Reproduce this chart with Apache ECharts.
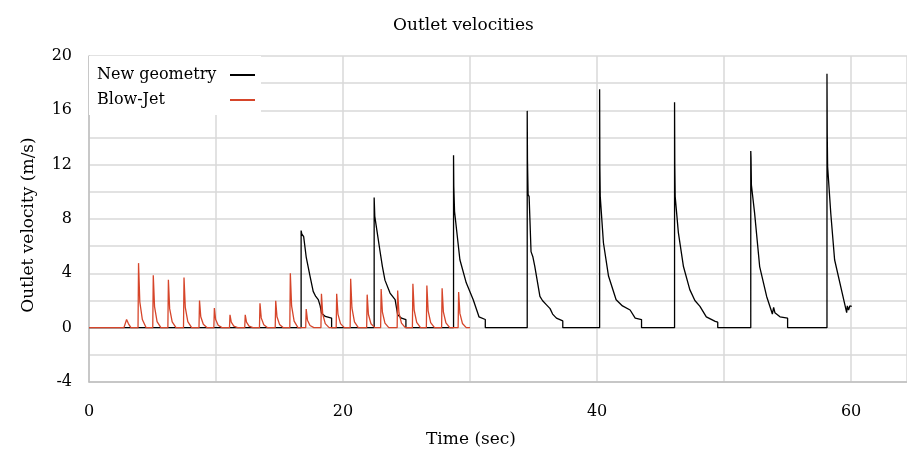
<!DOCTYPE html>
<html>
<head>
<meta charset="utf-8">
<script src="https://cdn.jsdelivr.net/npm/echarts@6/dist/echarts.min.js"></script>
<style>html,body{margin:0;padding:0;background:#fff;}#chart{width:907px;height:453px;}</style>
</head>
<body>
<div id="chart"></div>
<script>
const chartTitle = 'Outlet velocities';
const xAxisTitle = 'Time (sec)';
const yAxisTitle = 'Outlet velocity (m/s)';
const seriesNames = ['New geometry', 'Blow-Jet'];
const xTicks = [0, 20, 40, 60];
const yTicks = [-4, 0, 4, 8, 12, 16, 20];

const newGeomTime = [0,16.7,16.7,16.75,16.9,17.1,17.4,17.65,17.85,18.05,18.2,18.3,18.6,19.1,19.1,
  22.45,22.45,22.5,22.65,22.9,23.1,23.3,23.7,24.1,24.3,24.6,24.95,24.95,
  28.7,28.7,28.72,28.78,29.2,29.7,30.25,30.65,30.7,31.2,31.2,
  34.5,34.5,34.52,34.57,34.65,34.8,34.95,35.1,35.5,35.7,36.0,36.3,36.5,36.8,37.3,37.3,
  40.2,40.2,40.22,40.25,40.5,40.9,41.5,42.0,42.6,43.0,43.5,43.5,
  46.1,46.1,46.12,46.15,46.4,46.8,47.3,47.7,48.1,48.6,49.3,49.5,49.5,
  52.1,52.1,52.12,52.15,52.4,52.8,53.35,53.7,53.8,53.9,54.0,54.4,55.0,55.0,
  58.1,58.1,58.12,58.15,58.4,58.7,59.3,59.65,59.7,59.8,59.9,60.05];
const newGeomVel = [0,0,7.15,6.9,6.7,5.2,3.8,2.67,2.3,2.06,1.6,1.08,0.83,0.71,0,
  0,9.58,8.2,8.07,5.7,4.5,3.5,2.55,2.06,0.95,0.7,0.6,0,
  0,12.7,10.4,8.55,5.0,3.3,2.06,0.95,0.8,0.6,0,
  0,15.96,12.35,9.8,9.65,5.6,5.2,4.5,2.3,2.0,1.7,1.4,1.0,0.7,0.5,0,
  0,17.55,11.86,9.65,6.25,3.8,2.06,1.6,1.3,0.7,0.6,0,
  0,16.6,11.9,9.65,7.0,4.5,2.8,2.0,1.57,0.8,0.46,0.4,0,
  0,13.0,12.5,10.5,8.45,4.5,2.3,1.3,1.0,1.5,1.1,0.8,0.7,0,
  0,18.7,14.3,11.86,8.4,5.0,2.55,1.1,1.6,1.3,1.6,1.57];

const blowJetTime = [0,2.75,2.96,3.1,3.3,
  3.86,3.9,4.0,4.2,4.5,
  5.02,5.06,5.16,5.36,5.66,
  6.21,6.25,6.35,6.55,6.85,
  7.44,7.48,7.58,7.78,8.08,
  8.66,8.7,8.8,9.0,9.3,
  9.83,9.87,9.97,10.17,10.47,
  11.06,11.1,11.2,11.4,11.7,
  12.26,12.3,12.4,12.6,12.9,
  13.42,13.46,13.56,13.76,14.06,
  14.66,14.7,14.8,15.0,15.3,
  15.81,15.85,15.95,16.15,16.45,
  17.06,17.1,17.2,17.4,17.7,
  18.26,18.3,18.4,18.6,18.9,
  19.46,19.5,19.6,19.8,20.1,
  20.56,20.6,20.7,20.9,21.2,
  21.86,21.9,22.0,22.2,22.5,
  22.96,23.0,23.1,23.3,23.6,
  24.26,24.3,24.4,24.6,24.9,
  25.46,25.5,25.6,25.8,26.1,
  26.56,26.6,26.7,26.9,27.2,
  27.76,27.8,27.9,28.1,28.4,
  29.06,29.1,29.2,29.4,29.7,30.0];
const blowJetVel = [0,0,0.6,0.3,0,
  0,4.75,1.9,0.6,0,
  0,3.85,1.55,0.45,0,
  0,3.53,1.4,0.42,0,
  0,3.7,1.5,0.45,0,
  0,2.0,0.8,0.25,0,
  0,1.45,0.6,0.18,0,
  0,0.95,0.4,0.12,0,
  0,0.95,0.4,0.12,0,
  0,1.8,0.72,0.22,0,
  0,1.98,0.8,0.24,0,
  0,4.0,1.6,0.48,0,
  0,1.37,0.55,0.16,0,
  0,2.5,1.0,0.3,0,
  0,2.5,1.0,0.3,0,
  0,3.6,1.45,0.43,0,
  0,2.43,0.97,0.29,0,
  0,2.84,1.14,0.34,0,
  0,2.74,1.1,0.33,0,
  0,3.24,1.3,0.39,0,
  0,3.1,1.24,0.37,0,
  0,2.9,1.16,0.35,0,
  0,2.62,1.05,0.31,0,0];

const zip = (a, b) => a.map((v, i) => [v, b[i]]);
const FONT = 'DejaVu Serif';
const chart = echarts.init(document.getElementById('chart'));
chart.setOption({
  animation: false,
  backgroundColor: '#fff',
  title: {
    text: chartTitle, left: 388, top: 12,
    textStyle: { fontFamily: FONT, fontSize: 17, fontWeight: 'normal', color: '#000' }
  },
  legend: {
    data: seriesNames, orient: 'vertical', left: 89, top: 56, align: 'right',
    backgroundColor: '#fff', padding: [11, 6, 7, 8], itemGap: 9,
    itemWidth: 25, itemHeight: 2, icon: 'rect',
    formatter: name => '{t|' + name + '}',
    textStyle: {
      fontFamily: FONT, fontSize: 16, color: '#000',
      rich: { t: { fontFamily: FONT, fontSize: 16, color: '#000', width: 128, align: 'left' } }
    }
  },
  grid: { left: 89, right: 0, top: 56, bottom: 71, outerBoundsMode: 'none' },
  xAxis: {
    type: 'value', min: 0, max: 64.4, interval: 20,
    name: xAxisTitle, nameLocation: 'middle', nameGap: 49,
    nameTextStyle: { fontFamily: FONT, fontSize: 17, color: '#000', padding: [0, 54, 0, 0] },
    axisLine: { onZero: false, lineStyle: { color: '#bfbfbf', width: 1.5 } },
    axisTick: { show: false },
    axisLabel: {
      margin: 22, showMaxLabel: false, fontFamily: FONT, fontSize: 16, color: '#000',
      formatter: v => (xTicks.indexOf(v) >= 0 ? String(v) : '')
    },
    splitLine: { show: true, lineStyle: { color: '#d9d9d9', width: 1.5 } },
    minorTick: { show: false, splitNumber: 2 },
    minorSplitLine: { show: true, lineStyle: { color: '#d9d9d9', width: 1.5 } }
  },
  yAxis: {
    type: 'value', min: -4, max: 20, interval: 4,
    name: yAxisTitle, nameLocation: 'middle', nameGap: 52, nameRotate: 90,
    nameTextStyle: { fontFamily: FONT, fontSize: 17, color: '#000', padding: [0, 12, 0, 0] },
    axisLine: { show: true, lineStyle: { color: '#bfbfbf', width: 1.5 } },
    axisTick: { show: false },
    axisLabel: {
      margin: 17, fontFamily: FONT, fontSize: 16, color: '#000',
      formatter: v => (yTicks.indexOf(v) >= 0 ? String(v) : '')
    },
    splitLine: { show: true, lineStyle: { color: '#d9d9d9', width: 1.5 } },
    minorTick: { show: false, splitNumber: 2 },
    minorSplitLine: { show: true, lineStyle: { color: '#d9d9d9', width: 1.5 } }
  },
  series: [
    {
      name: seriesNames[0], type: 'line', data: zip(newGeomTime, newGeomVel),
      showSymbol: false, color: '#000', lineStyle: { color: '#000', width: 1.3 }
    },
    {
      name: seriesNames[1], type: 'line', data: zip(blowJetTime, blowJetVel),
      showSymbol: false, color: '#d6452a', lineStyle: { color: '#d6452a', width: 1.3 }
    }
  ]
});
</script>
</body>
</html>
